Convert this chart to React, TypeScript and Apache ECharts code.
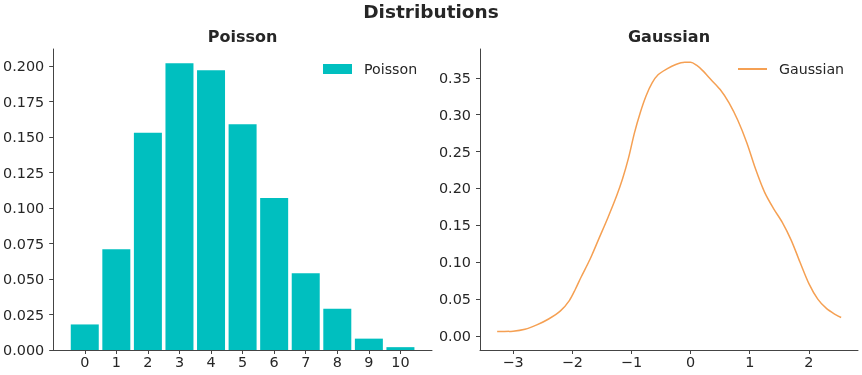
import React, { useEffect, useRef } from "react";
import * as echarts from "echarts";

const poissonK = [0, 1, 2, 3, 4, 5, 6, 7, 8, 9, 10];
const poissonP = [0.018, 0.071, 0.153, 0.202, 0.197, 0.159, 0.107, 0.054, 0.029, 0.008, 0.002];
const poissonYTicks = [0, 0.025, 0.05, 0.075, 0.1, 0.125, 0.15, 0.175, 0.2];

const gaussX = [-3.27, -3.0, -2.8, -2.6, -2.4, -2.2, -2.05, -1.95, -1.85, -1.7, -1.55, -1.4, -1.25, -1.15, -1.05, -0.95, -0.85, -0.75, -0.65, -0.55, -0.4, -0.25, -0.1, 0.0, 0.1, 0.2, 0.35, 0.5, 0.65, 0.8, 0.95, 1.1, 1.25, 1.4, 1.55, 1.7, 1.85, 2.0, 2.15, 2.3, 2.45, 2.545];
const gaussY = [0.006, 0.0065, 0.009, 0.015, 0.023, 0.034, 0.048, 0.063, 0.08, 0.104, 0.132, 0.16, 0.19, 0.213, 0.241, 0.275, 0.303, 0.326, 0.343, 0.354, 0.362, 0.368, 0.371, 0.371, 0.367, 0.36, 0.347, 0.334, 0.316, 0.292, 0.262, 0.226, 0.195, 0.173, 0.154, 0.13, 0.1, 0.071, 0.05, 0.037, 0.029, 0.025];
const gaussXTicks = [-3, -2, -1, 0, 1, 2];
const gaussYTicks = [0, 0.05, 0.1, 0.15, 0.2, 0.25, 0.3, 0.35];

const FONT = "DejaVu Sans";
const TXT = "#262626";
const AX = "#444444";
const TEAL = "#00BFBF";
const ORANGE = "#F5A053";
const TICK_FS = 14.4;

const axisCommon = {
  splitLine: { show: false },
  axisLine: { show: true, onZero: false, lineStyle: { color: AX, width: 1 } },
};

export default function App() {
  const ref = useRef<HTMLDivElement>(null);
  useEffect(() => {
    if (!ref.current) return;
    const chart = echarts.init(ref.current, undefined, { renderer: "svg" });
    const minus = (v: number) => (v < 0 ? "\u2212" + Math.abs(v) : String(v));
    chart.setOption({
      animation: false,
      graphic: [
        { type: "text", x: 431, y: 11, style: { text: "Distributions", font: `bold 18.5px "${FONT}"`, fill: TXT, textAlign: "center", textVerticalAlign: "middle" } },
        { type: "text", x: 242.5, y: 36, style: { text: "Poisson", font: `bold 16px "${FONT}"`, fill: TXT, textAlign: "center", textVerticalAlign: "middle" } },
        { type: "text", x: 669, y: 36, style: { text: "Gaussian", font: `bold 16px "${FONT}"`, fill: TXT, textAlign: "center", textVerticalAlign: "middle" } },
      ],
      legend: [
        {
          data: [{ name: "Poisson", icon: "rect" }], left: 323, top: 62, padding: 0, itemWidth: 29, itemHeight: 10,
          textStyle: { fontFamily: FONT, fontSize: 14.2, color: TXT, padding: [0, 0, 0, 7] },
        },
        {
          data: [{ name: "Gaussian", icon: "rect" }], left: 738, top: 62, padding: 0, itemWidth: 29, itemHeight: 2,
          textStyle: { fontFamily: FONT, fontSize: 14.2, color: TXT, padding: [0, 0, 0, 7] },
        },
      ],
      grid: [
        { left: 53, top: 49, width: 379, height: 301 },
        { left: 480, top: 49, width: 378, height: 301 },
      ],
      xAxis: [
        {
          ...axisCommon, type: "value", gridIndex: 0, min: -1, max: 11,
          axisTick: { show: true, inside: false, length: 4, customValues: poissonK, lineStyle: { color: AX } },
          axisLabel: { customValues: poissonK, fontFamily: FONT, fontSize: TICK_FS, color: TXT, margin: 5, formatter: (v: number) => String(v) },
        },
        {
          ...axisCommon, type: "value", gridIndex: 1, min: -3.56, max: 2.83,
          axisTick: { show: true, inside: false, length: 4, customValues: gaussXTicks, lineStyle: { color: AX } },
          axisLabel: { customValues: gaussXTicks, fontFamily: FONT, fontSize: TICK_FS, color: TXT, margin: 5, formatter: minus },
        },
      ],
      yAxis: [
        {
          ...axisCommon, type: "value", gridIndex: 0, min: 0, max: 0.212,
          axisTick: { show: true, inside: false, length: 4, customValues: poissonYTicks, lineStyle: { color: AX } },
          axisLabel: { customValues: poissonYTicks, fontFamily: FONT, fontSize: TICK_FS, color: TXT, margin: 9, formatter: (v: number) => v.toFixed(3) },
        },
        {
          ...axisCommon, type: "value", gridIndex: 1, min: -0.019, max: 0.389,
          axisTick: { show: true, inside: false, length: 4, customValues: gaussYTicks, lineStyle: { color: AX } },
          axisLabel: { customValues: gaussYTicks, fontFamily: FONT, fontSize: TICK_FS, color: TXT, margin: 9, formatter: (v: number) => v.toFixed(2) },
        },
      ],
      series: [
        {
          name: "Poisson", type: "bar", xAxisIndex: 0, yAxisIndex: 0, barWidth: 28,
          itemStyle: { color: TEAL },
          data: poissonK.map((k, i) => [k, poissonP[i]]),
        },
        {
          name: "Gaussian", type: "line", xAxisIndex: 1, yAxisIndex: 1, smooth: 0.3,
          symbol: "none", showSymbol: false,
          lineStyle: { color: ORANGE, width: 1.5 }, itemStyle: { color: ORANGE },
          data: gaussX.map((x, i) => [x, gaussY[i]]),
        },
      ],
    });
    return () => chart.dispose();
  }, []);
  return <div ref={ref} style={{ position: "fixed", left: 0, top: 0, width: 862, height: 375 }} />;
}
